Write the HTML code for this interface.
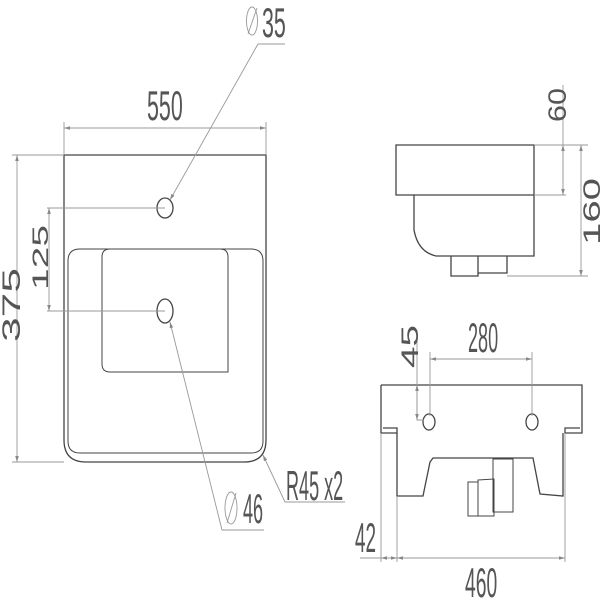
<!DOCTYPE html>
<html><head><meta charset="utf-8"><style>html,body{margin:0;padding:0;background:#fff}svg{display:block}</style></head>
<body>
<svg width="600" height="600" viewBox="0 0 600 600" xmlns="http://www.w3.org/2000/svg">
<defs>
<marker id="a" viewBox="0 0 10 6" refX="10" refY="3" markerWidth="7" markerHeight="4" orient="auto-start-reverse"><path d="M0,0L10,3L0,6z" fill="#888"/></marker>
</defs>
<g fill="none" stroke="#444" stroke-width="1.3">
<path d="M64,155H266V440Q266,462 244,462H86Q64,462 64,440Z"/>
<path d="M80,249H251Q263,249 263,261V441Q263,453 251,453H80Q68,453 68,441V261Q68,249 80,249Z" stroke-width="1"/>
<path d="M110,249H220Q228,249 228,257V372H110Q102,372 102,364V257Q102,249 110,249Z" stroke-width="1"/>
<ellipse cx="165" cy="208" rx="8" ry="10"/>
<ellipse cx="165" cy="311" rx="8" ry="12"/>
<path d="M396,145H534V256H436Q418,252 414,230V195H396Z"/>
<path d="M414,195H534"/>
<path d="M451,256V276H478V256M478,273H507V256"/>
<path d="M381,385H582V433H565V428H580M381,385V433H397V428H383"/>
<path d="M397,433V496H423L430,462L433,458H533L540,494L563,496V433"/>
<path d="M468,482H478V516H468ZM478,480L494,479V516H478ZM493,459H513V512H493Z" stroke-width="1"/>
<ellipse cx="429" cy="422" rx="6" ry="8"/>
<ellipse cx="532" cy="422" rx="6" ry="8"/>
</g>
<g fill="none" stroke="#999" stroke-width="0.9">
<path d="M64,122V155M266,122V155"/>
<path d="M64,128H266" marker-start="url(#a)" marker-end="url(#a)"/>
<path d="M12,155H64M12,462H64"/>
<path d="M17,155V462" marker-start="url(#a)" marker-end="url(#a)"/>
<path d="M47,208H165M47,311H165"/>
<path d="M49,208V311" marker-start="url(#a)" marker-end="url(#a)"/>
<path d="M170,200L258,44H285" marker-start="url(#a)"/>
<path d="M170,322L222,530H264" marker-start="url(#a)"/>
<path d="M263,455L285,502H345" marker-start="url(#a)"/>
<path d="M534,145H588M534,195H566M507,276H588"/>
<path d="M563,85V195"/>
<path d="M563,145V195" marker-start="url(#a)" marker-end="url(#a)"/>
<path d="M581,145V276" marker-start="url(#a)" marker-end="url(#a)"/>
<path d="M430,352V416M532,352V416"/>
<path d="M430,359H532" marker-start="url(#a)" marker-end="url(#a)"/>
<path d="M417,330V420H424"/>
<path d="M417,385V420" marker-start="url(#a)" marker-end="url(#a)"/>
<path d="M381,433V562M397,496V562M565,433V562"/>
<path d="M360,558H565"/>
<path d="M397,558H565" marker-start="url(#a)" marker-end="url(#a)"/>
<path d="M381,558H397" marker-start="url(#a)" marker-end="url(#a)"/>
<ellipse cx="252" cy="21" rx="5.5" ry="14"/><path d="M248,34L257,8"/>
<ellipse cx="231" cy="508" rx="6" ry="16"/><path d="M227,523L236,493"/>
</g>
<g fill="#555" font-family="Liberation Sans, sans-serif" font-size="42">
<text transform="translate(147,120) scale(0.51,1)">550</text>
<text transform="translate(262,37) scale(0.51,1)">35</text>
<text transform="translate(243,523) scale(0.43,1)">46</text>
<text transform="translate(286,500) scale(0.43,1)">R45 x2</text>
<text transform="translate(468,352) scale(0.43,1)">280</text>
<text transform="translate(355,552) scale(0.45,1)">42</text>
<text transform="translate(465,597) scale(0.46,1)">460</text>
</g>
<g fill="#555" font-family="Liberation Sans, sans-serif">
<text transform="translate(20,342) rotate(-90)" font-size="25" textLength="74" lengthAdjust="spacingAndGlyphs">375</text>
<text transform="translate(48,290) rotate(-90)" font-size="22" textLength="65" lengthAdjust="spacingAndGlyphs">125</text>
<text transform="translate(566,122) rotate(-90)" font-size="25" textLength="34" lengthAdjust="spacingAndGlyphs">60</text>
<text transform="translate(600,245) rotate(-90)" font-size="24" textLength="67" lengthAdjust="spacingAndGlyphs">160</text>
<text transform="translate(418,368) rotate(-90)" font-size="24" textLength="43" lengthAdjust="spacingAndGlyphs">45</text>
</g>
</svg>
</body></html>
